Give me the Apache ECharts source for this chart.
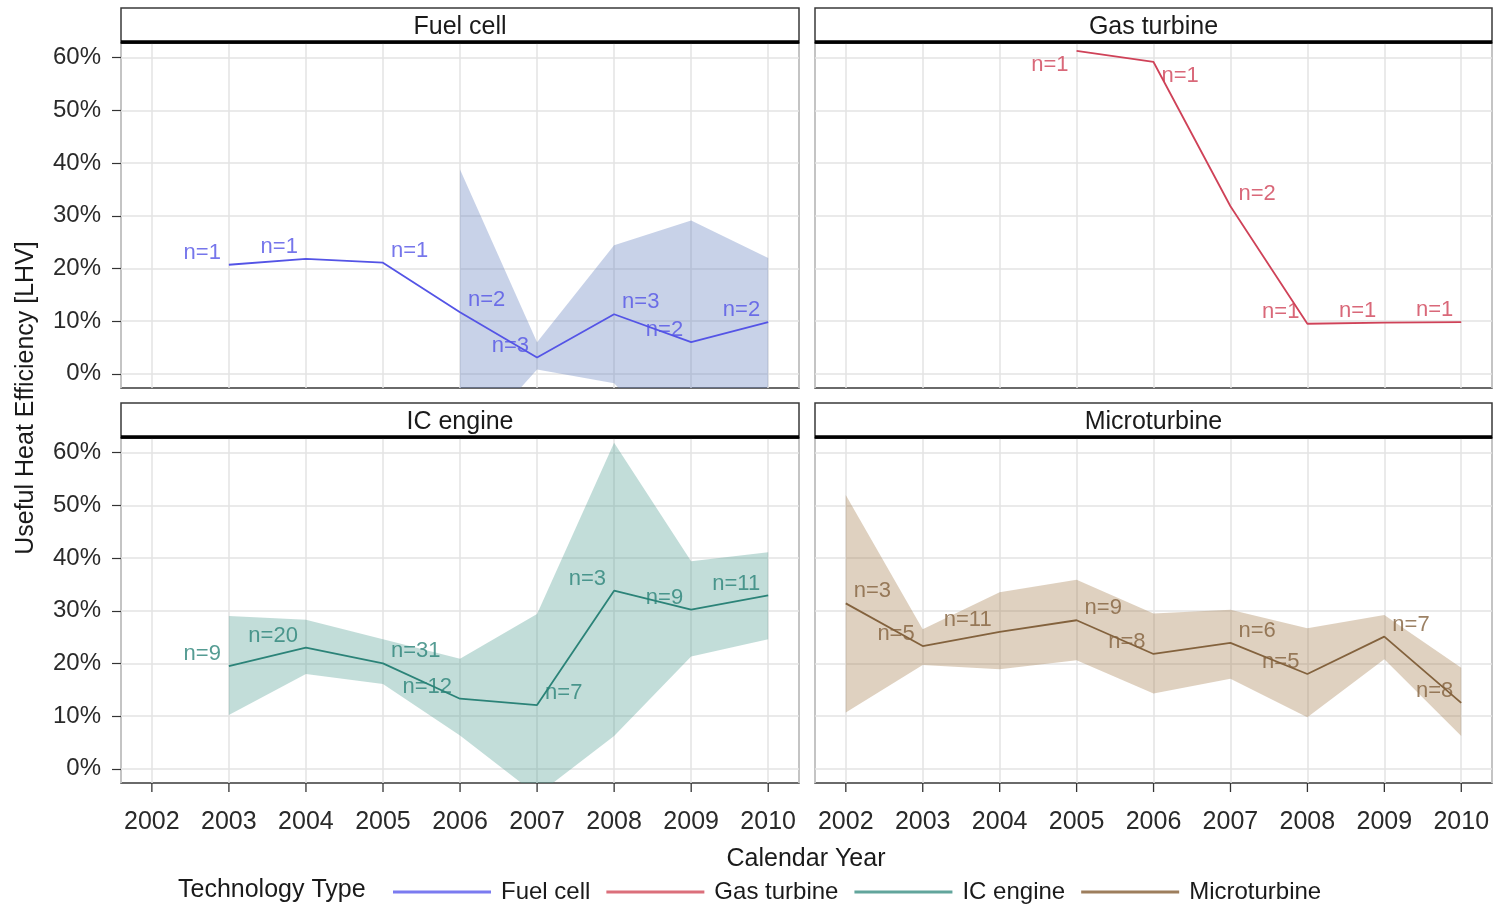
<!DOCTYPE html>
<html>
<head>
<meta charset="utf-8">
<title>Useful Heat Efficiency by Technology Type</title>
<script src="https://cdn.jsdelivr.net/npm/echarts@6/dist/echarts.min.js"></script>
<style>
  html, body { margin: 0; padding: 0; background: #ffffff; }
  #chart { width: 1499px; height: 905px; }
</style>
</head>
<body>
<div id="chart"></div>
<script>
// ---- Data (useful heat efficiency in %, LHV) ----
const years = [2002, 2003, 2004, 2005, 2006, 2007, 2008, 2009, 2010];
const yTicks = [0, 10, 20, 30, 40, 50, 60];
const techTypes = ['Fuel cell', 'Gas turbine', 'IC engine', 'Microturbine'];

const fuelYears = [2003, 2004, 2005, 2006, 2007, 2008, 2009, 2010];
const fuelMean  = [20.7, 21.8, 21.1, 11.7, 3.1, 11.3, 6.0, 9.8];
const fuelUpper = [null, null, null, 38.8, 6.0, 24.4, 29.1, 22.0];
const fuelLower = [null, null, null, -15.5, 0.8, -1.8, -17.1, -2.4];
const fuelN     = [1, 1, 1, 2, 3, 3, 2, 2];

const gasYears = [2005, 2006, 2007, 2008, 2009, 2010];
const gasMean  = [61.3, 59.2, 31.8, 9.5, 9.7, 9.8];
const gasUpper = [null, null, null, null, null, null];
const gasLower = [null, null, null, null, null, null];
const gasN     = [1, 1, 2, 1, 1, 1];

const icYears = [2003, 2004, 2005, 2006, 2007, 2008, 2009, 2010];
const icMean  = [19.5, 23.0, 20.0, 13.3, 12.1, 33.8, 30.2, 32.9];
const icUpper = [29.0, 28.3, 24.6, 20.9, 29.4, 61.9, 39.4, 41.1];
const icLower = [10.2, 18.0, 16.1, 6.3, -5.0, 6.2, 21.3, 24.6];
const icN     = [9, 20, 31, 12, 7, 3, 9, 11];

const microYears = [2002, 2003, 2004, 2005, 2006, 2007, 2008, 2009, 2010];
const microMean  = [31.4, 23.3, 26.0, 28.2, 21.8, 23.9, 18.0, 25.1, 12.5];
const microUpper = [52.0, 26.5, 33.5, 35.9, 29.5, 30.2, 26.7, 29.2, 19.2];
const microLower = [10.7, 19.7, 18.9, 20.6, 14.3, 17.1, 9.8, 20.8, 6.2];
const microN     = [3, 5, 11, 9, 8, 6, 5, 7, 8];

// ---- Label placement (side of the point, above / below) ----
const fuelLabelSide  = ['lt', 'lt', 'rt', 'rt', 'lt', 'rt', 'lt', 'lt'];
const gasLabelSide   = ['lb', 'rb', 'rt', 'lt', 'lt', 'lt'];
const icLabelSide    = ['lt', 'lt', 'rt', 'lt', 'rt', 'lt', 'lt', 'lt'];
const microLabelSide = ['rt', 'lt', 'lt', 'rt', 'lt', 'rt', 'lt', 'rt', 'lt'];

// ---- Styles ----
const FONT = 'Liberation Sans, Arial, sans-serif';
const BORDER = '#3a3a3a';
const lineColors   = ['#5454e6', '#cf4258', '#2b8378', '#83623d'];
const legendColors = ['#7b7bf0', '#db6f7b', '#62a59c', '#9d7e5d'];
const bandColors   = ['rgba(98,127,189,0.35)', 'rgba(205,66,88,0.3)', 'rgba(75,155,144,0.34)', 'rgba(161,121,69,0.34)'];
const X_MIN = 2001.6, X_MAX = 2010.4, Y_MIN = -2.7, Y_MAX = 62.8;
const TICK_LEN = 9;

const panels = [
  { years: fuelYears,  mean: fuelMean,  upper: fuelUpper,  lower: fuelLower,  n: fuelN,  side: fuelLabelSide },
  { years: gasYears,   mean: gasMean,   upper: gasUpper,   lower: gasLower,   n: gasN,   side: gasLabelSide },
  { years: icYears,    mean: icMean,    upper: icUpper,    lower: icLower,    n: icN,    side: icLabelSide },
  { years: microYears, mean: microMean, upper: microUpper, lower: microLower, n: microN, side: microLabelSide }
];

// Facet layout (plot areas; strips sit above each)
const boxes = [
  { left: 121, top: 43,  width: 678, height: 345 },
  { left: 815, top: 43,  width: 677, height: 345 },
  { left: 121, top: 438, width: 678, height: 345 },
  { left: 815, top: 438, width: 677, height: 345 }
];
const STRIP_H = 35;

const grids = [], xAxes = [], yAxes = [], series = [], graphics = [];

panels.forEach((p, i) => {
  const b = boxes[i];
  const isBottom = i >= 2;
  const isLeft = i % 2 === 0;

  grids.push({
    left: b.left, top: b.top, width: b.width, height: b.height,
    show: true, borderColor: BORDER, borderWidth: 1.5, backgroundColor: 'transparent'
  });

  xAxes.push({
    type: 'value', gridIndex: i, position: 'bottom', min: X_MIN, max: X_MAX, splitNumber: 9,
    axisLine: { show: false, onZero: false },
    axisTick: { show: false },
    axisLabel: { show: isBottom, customValues: years, margin: 27, fontSize: 25, color: '#2a2a2a', fontFamily: FONT,
                 formatter: v => String(v) },
    splitLine: { show: true, lineStyle: { color: '#e3e3e3', width: 1.5 } }
  });

  yAxes.push({
    type: 'value', gridIndex: i, position: 'left', min: Y_MIN, max: Y_MAX, splitNumber: 7,
    axisLine: { show: false, onZero: false },
    axisTick: { show: isLeft, length: TICK_LEN, customValues: yTicks, lineStyle: { color: '#333', width: 1.2 } },
    axisLabel: { show: isLeft, customValues: yTicks, margin: 20, fontSize: 24, color: '#2a2a2a', fontFamily: FONT,
                 formatter: v => v + '%' },
    splitLine: { show: true, lineStyle: { color: '#e3e3e3', width: 1.5 } }
  });

  // Confidence band drawn as one polygon through the axis scales, clipped to the plot area
  const band = [];
  p.years.forEach((y, k) => {
    if (p.upper[k] != null && p.lower[k] != null) band.push([y, p.lower[k], p.upper[k]]);
  });
  if (band.length) {
    series.push({
      type: 'custom', xAxisIndex: i, yAxisIndex: i, silent: true, z: 1,
      data: band,
      encode: { x: 0, y: [1, 2] },
      renderItem: (params, api) => {
        if (params.dataIndex !== 0) return null;
        const top = band.map(d => api.coord([d[0], d[2]]));
        const bottom = band.slice().reverse().map(d => api.coord([d[0], d[1]]));
        const cs = params.coordSys;
        return {
          type: 'group',
          clipPath: { type: 'rect', shape: { x: cs.x, y: cs.y, width: cs.width, height: cs.height } },
          children: [{
            type: 'polygon',
            shape: { points: top.concat(bottom) },
            style: { fill: bandColors[i] }
          }]
        };
      }
    });
  }

  // Mean efficiency line
  series.push({
    type: 'line', name: techTypes[i], xAxisIndex: i, yAxisIndex: i,
    data: p.years.map((y, k) => [y, p.mean[k]]),
    symbol: 'none', z: 3,
    lineStyle: { color: lineColors[i], width: 1.8 },
    itemStyle: { color: legendColors[i] }
  });

  // Sample-size labels "n=…"
  series.push({
    type: 'scatter', xAxisIndex: i, yAxisIndex: i, silent: true, z: 4,
    symbolSize: 2, itemStyle: { color: 'rgba(0,0,0,0)' },
    data: p.years.map((y, k) => ({
      value: [y, p.mean[k], p.n[k]],
      label: {
        position: p.side[k][0] === 'l' ? 'left' : 'right',
        offset: [0, p.side[k][1] === 't' ? -12 : 14]
      }
    })),
    label: {
      show: true, distance: 7, fontSize: 22, fontFamily: FONT, color: lineColors[i],
      formatter: prm => 'n=' + prm.value[2]
    }
  });

  // Facet strip
  graphics.push({
    type: 'rect', z: 10,
    shape: { x: b.left, y: b.top - STRIP_H, width: b.width, height: STRIP_H },
    style: { fill: '#ffffff', stroke: BORDER, lineWidth: 1.5 }
  });
  graphics.push({
    type: 'line', z: 11,
    shape: { x1: b.left, y1: b.top - 1, x2: b.left + b.width, y2: b.top - 1 },
    style: { stroke: '#000000', lineWidth: 3.5 }
  });
  graphics.push({
    type: 'text', z: 12,
    x: b.left + b.width / 2, y: b.top - STRIP_H / 2 + 2,
    style: { text: techTypes[i], fill: '#1a1a1a', font: '25px ' + FONT, textAlign: 'center', textVerticalAlign: 'middle' }
  });
});

// Axis titles and legend title
graphics.push({
  type: 'text', z: 12, x: 806, y: 859,
  style: { text: 'Calendar Year', fill: '#1a1a1a', font: '25px ' + FONT, textAlign: 'center', textVerticalAlign: 'middle' }
});
graphics.push({
  type: 'text', z: 12, x: 26, y: 398, rotation: Math.PI / 2,
  style: { text: 'Useful Heat Efficiency [LHV]', fill: '#1a1a1a', font: '25px ' + FONT, textAlign: 'center', textVerticalAlign: 'middle' }
});
graphics.push({
  type: 'text', z: 12, x: 178, y: 890,
  style: { text: 'Technology Type', fill: '#1a1a1a', font: '25px ' + FONT, textAlign: 'left', textVerticalAlign: 'middle' }
});

const chart = echarts.init(document.getElementById('chart'), null, { renderer: 'canvas' });
chart.setOption({
  backgroundColor: '#ffffff',
  animation: false,
  grid: grids,
  xAxis: xAxes,
  yAxis: yAxes,
  series: series,
  graphic: graphics,
  legend: {
    data: techTypes,
    left: 388, top: 875,
    icon: 'rect', itemWidth: 98, itemHeight: 3, itemGap: 16,
    textStyle: { fontSize: 24, color: '#1a1a1a', fontFamily: FONT, padding: [0, 0, 0, 5] },
    selectedMode: false
  }
});

// Year tick marks under the bottom row: x from the panel's x axis, hanging below the plot frame
function yearToPixelX(gi, year) {
  const finders = [{ xAxisIndex: gi }, { gridIndex: gi }, { xAxisIndex: gi, yAxisIndex: gi }];
  for (const f of finders) {
    try {
      const v = chart.convertToPixel(f, f.xAxisIndex != null && f.yAxisIndex == null ? year : [year, Y_MIN]);
      const px = Array.isArray(v) ? v[0] : v;
      if (typeof px === 'number' && isFinite(px)) return px;
    } catch (e) { /* try the next finder */ }
  }
  const b = boxes[gi];
  return b.left + (year - X_MIN) / (X_MAX - X_MIN) * b.width;
}

const tickGroup = { type: 'group', z: 50, children: [] };
[2, 3].forEach(gi => {
  const yBase = boxes[gi].top + boxes[gi].height;
  years.forEach(year => {
    const px = yearToPixelX(gi, year);
    tickGroup.children.push({
      type: 'rect', z: 50,
      shape: { x: px - 0.6, y: yBase, width: 1.3, height: TICK_LEN },
      style: { fill: '#333333' }
    });
  });
});
chart.setOption({ graphic: graphics.concat([tickGroup]) });
</script>
</body>
</html>
